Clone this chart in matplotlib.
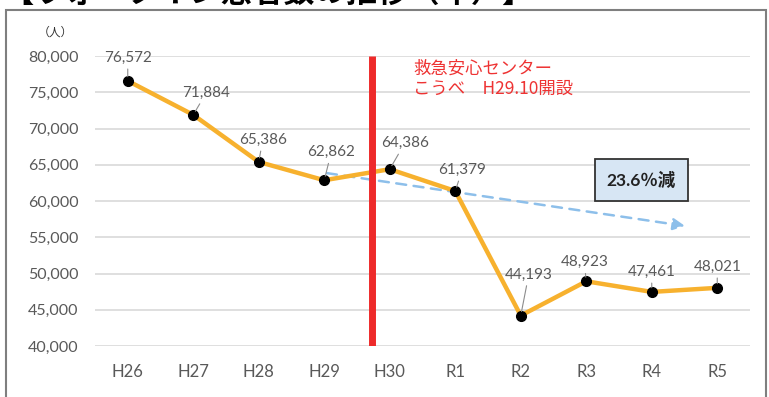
import matplotlib
matplotlib.use("Agg")
import matplotlib.pyplot as plt
from matplotlib.patches import Rectangle, FancyArrowPatch

plt.rcParams['font.family'] = ['Lato', 'Noto Sans CJK JP', 'DejaVu Sans']

categories = ["H26", "H27", "H28", "H29", "H30", "R1", "R2", "R3", "R4", "R5"]
values = [76572, 71884, 65386, 62862, 64386, 61379, 44193, 48923, 47461, 48021]
# label offsets (pixels) of label centre relative to the marker
label_offsets = [(0, 23), (13, 22), (4, 22), (7, 28), (15, 26), (7, 21), (8, 41), (-2, 19), (0, 20), (0, 21)]
yticks = [40000, 45000, 50000, 55000, 60000, 65000, 70000, 75000, 80000]

title = "【ウォークイン患者数の推移（年）】"
unit_label = "（人）"
note_lines = ["救急安心センター", "こうべ　H29.10開設"]
box_text = "23.6％減"
trend_start = (3.0, 63900)
trend_end = (8.55, 56500)
divider_x = 3.73

W, H = 769, 397
fig = plt.figure(figsize=(W / 100, H / 100), dpi=100)
ax = fig.add_axes([95 / W, (H - 346) / H, (750 - 95) / W, (346 - 56) / H])

x = list(range(len(categories)))
ax.plot(x, values, color="#F7B12E", lw=3.2, zorder=3,
        marker="o", markersize=7, markerfacecolor="black", markeredgecolor="black")

gray = "#595959"
for xi, v, (dx, dy) in zip(x, values, label_offsets):
    ax.annotate(f"{v:,}", xy=(xi, v), xytext=(dx, dy), textcoords="offset pixels",
                ha="center", va="center", fontsize=11, color=gray,
                arrowprops=dict(arrowstyle="-", color="#8c8c8c", lw=0.8, shrinkA=1, shrinkB=3),
                zorder=5)

ax.set_xlim(-0.5, len(categories) - 0.5)
ax.set_ylim(40000, 80000)
ax.set_yticks(yticks)
ax.set_yticklabels([f"{t:,}" for t in yticks])
ax.set_xticks(x)
ax.set_xticklabels(categories)
ax.tick_params(axis="both", length=0, colors=gray)
ax.tick_params(axis="x", pad=13, labelsize=12)
ax.tick_params(axis="y", pad=12, labelsize=11.5)
ax.grid(axis="y", color="#d9d9d9", lw=1.2)
ax.set_axisbelow(True)
for s in ax.spines.values():
    s.set_visible(False)

# red divider
ax.plot([divider_x, divider_x], [40000, 80000], color="#EE2A2A", lw=5, zorder=4, solid_capstyle="butt")

# red note
ax.text(4.36, 76900, note_lines[0] + "\n" + note_lines[1], color="#EE3333", fontsize=12.5,
        va="center", ha="left", linespacing=1.15, family=['Noto Sans CJK JP', 'DejaVu Sans'])

# dashed trend arrow
arr = FancyArrowPatch(trend_start, trend_end, arrowstyle="-|>,head_length=7,head_width=3.5",
                      linestyle=(0, (4, 3)), color="#8DBFEA", lw=1.8, mutation_scale=1, zorder=2)
ax.add_patch(arr)

# box
ax.text(7.84, 62900, box_text, ha="center", va="center", fontsize=12.5, fontweight="bold",
        color="#222222", family=['Lato', 'Noto Sans CJK JP'],
        bbox=dict(boxstyle="square,pad=0.7", facecolor="#D7E6F4", edgecolor="#333333", lw=1.3))

# unit label
fig.text(55 / W, (H - 32) / H, unit_label, ha="center", va="center", fontsize=8.5, color="#333333",
         family=['Noto Sans CJK JP', 'DejaVu Sans'])

# outer frame
frame = Rectangle((6 / W, -0.05), (766 - 6) / W, (H - 10) / H + 0.05, transform=fig.transFigure,
                  fill=False, edgecolor="#7f7f7f", lw=1.5, clip_on=False)
fig.patches.append(frame)

# title (partly outside the top edge, as in the reference)
fig.text(2 / W, (H + 22) / H, title, ha="left", va="top", fontsize=22.5, fontweight="bold",
         color="black", family=['Noto Sans CJK JP', 'DejaVu Sans'])

fig.savefig("out.png", dpi=100)
